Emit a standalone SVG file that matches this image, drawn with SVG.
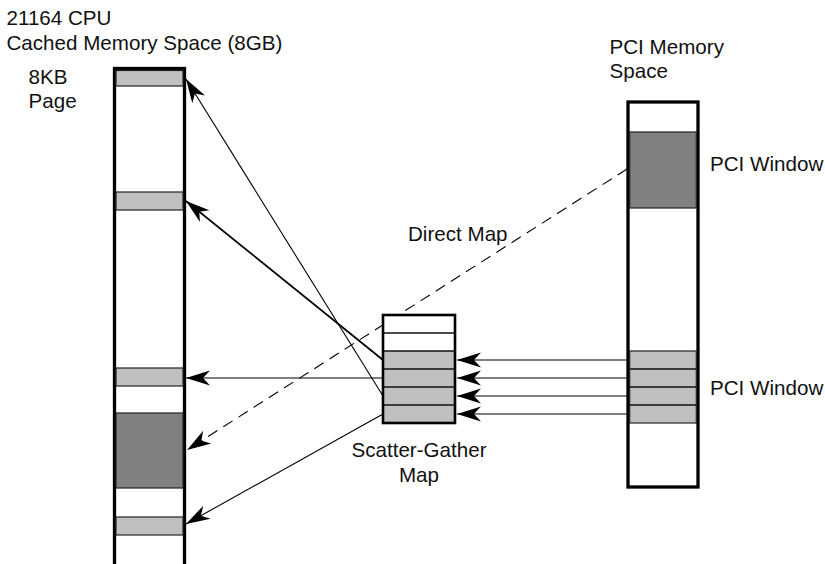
<svg xmlns="http://www.w3.org/2000/svg" width="825" height="564" viewBox="0 0 825 564">
<style>
text{font-family:"Liberation Sans",Arial,sans-serif;font-size:20.6px;fill:#111}
.col{fill:#fff;stroke:#000;stroke-width:3.3}
.lt{fill:#c0c0c0;stroke:#222;stroke-width:1.2}
.dk{fill:#808080;stroke:#222;stroke-width:1.2}
.sep{stroke:#111;stroke-width:1.3}
.ln{fill:none;stroke:#000;stroke-width:1.1}
</style>
<defs>
<marker id="ah" markerUnits="userSpaceOnUse" viewBox="-26 -9 28 18" refX="0" refY="0" markerWidth="28" markerHeight="18" orient="auto" overflow="visible">
<path d="M0,0 L-24,-7.5 L-17,0 L-24,7.5 Z" fill="#000"/>
</marker>
</defs>
<g id="connectors">
<line class="ln" x1="627" y1="169" x2="187" y2="450" stroke-dasharray="11 7" marker-end="url(#ah)"/>
<line class="ln" x1="383" y1="396" x2="186" y2="79" marker-end="url(#ah)"/>
<line class="ln" x1="383" y1="360" x2="186" y2="201" style="stroke-width:1.7" marker-end="url(#ah)"/>
<line class="ln" x1="383" y1="378" x2="186" y2="378" marker-end="url(#ah)"/>
<line class="ln" x1="383" y1="414" x2="186" y2="524" marker-end="url(#ah)"/>
<line class="ln" x1="627" y1="360" x2="457" y2="360" marker-end="url(#ah)"/>
<line class="ln" x1="627" y1="378" x2="457" y2="378" marker-end="url(#ah)"/>
<line class="ln" x1="627" y1="396" x2="457" y2="396" marker-end="url(#ah)"/>
<line class="ln" x1="627" y1="414" x2="457" y2="414" marker-end="url(#ah)"/>
</g>
<g id="cpu-memory">
<rect class="col" x="114.5" y="68.5" width="70" height="510"/>
<rect class="lt" x="116" y="70.5" width="67" height="15.5"/>
<rect class="lt" x="116" y="192" width="67" height="18"/>
<rect class="lt" x="116" y="368" width="67" height="18"/>
<rect class="dk" x="116" y="413" width="67" height="75"/>
<rect class="lt" x="116" y="517" width="67" height="18"/>
</g>
<g id="pci-memory">
<rect class="col" x="628" y="102" width="70" height="385"/>
<rect class="dk" x="629.7" y="132" width="66.6" height="76"/>
<rect class="lt" x="629.7" y="351" width="66.6" height="72"/>
<line class="sep" x1="629.7" y1="369" x2="696.3" y2="369"/>
<line class="sep" x1="629.7" y1="387" x2="696.3" y2="387"/>
<line class="sep" x1="629.7" y1="405" x2="696.3" y2="405"/>
</g>
<g id="sg-map">
<rect x="383" y="315" width="72" height="108" fill="#fff"/>
<rect x="383" y="351" width="72" height="72" fill="#c0c0c0"/>
<line class="sep" x1="383" y1="333" x2="455" y2="333"/>
<line class="sep" x1="383" y1="351" x2="455" y2="351"/>
<line class="sep" x1="383" y1="369" x2="455" y2="369"/>
<line class="sep" x1="383" y1="387" x2="455" y2="387"/>
<line class="sep" x1="383" y1="405" x2="455" y2="405"/>
<rect x="383" y="315" width="72" height="108" fill="none" stroke="#000" stroke-width="2.6"/>
</g>
<g id="labels">
<text x="6.5" y="25">21164 CPU</text>
<text x="6.5" y="50">Cached Memory Space (8GB)</text>
<text x="28.5" y="83.5">8KB</text>
<text x="28.5" y="108">Page</text>
<text x="609.5" y="54">PCI Memory</text>
<text x="609.5" y="78">Space</text>
<text x="710" y="171">PCI Window</text>
<text x="710" y="395">PCI Window</text>
<text x="408" y="241">Direct Map</text>
<text x="419" y="457" text-anchor="middle">Scatter-Gather</text>
<text x="419" y="482" text-anchor="middle">Map</text>
</g>
</svg>
